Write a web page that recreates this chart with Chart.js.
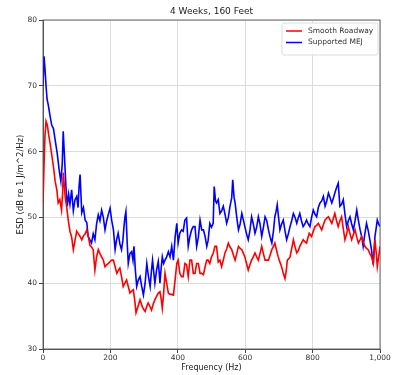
<!DOCTYPE html>
<html>
<head>
<meta charset="utf-8">
<script src="https://cdn.jsdelivr.net/npm/chart.js@4.4.1/dist/chart.umd.min.js"></script>
<style>
body{margin:0;background:#fff}
canvas{display:block}
</style>
</head>
<body>
<canvas id="c" width="398" height="375"></canvas>
<script>
// spectra, frequency in Hz and level in dB
const redHz = [0,3,6,9,13,17,21,26,31,36,41,45,50,55,58,60,63,66,70,75,80,85,90,95,100,105,110,115,120,125,130,135,139,144,149,154,159,164,169,174,179,184,189,194,199,204,209,214,219,224,228,233,238,243,248,253,258,263,268,272,276,282,288,294,299,303,308,312,317,322,327,332,337,342,347,351,354,358,362,367,372,377,382,387,392,397,401,406,411,416,421,426,431,436,441,446,451,456,461,466,471,476,481,486,490,495,500,505,510,515,520,525,530,535,540,545,550,555,560,565,570,575,580,585,590,595,599,604,609,614,619,624,629,634,639,644,649,654,659,664,669,674,679,684,688,693,698,703,708,713,718,722,725,729,733,738,743,748,753,758,762,767,772,777,782,786,790,797,802,807,812,817,822,827,832,837,842,847,852,857,862,866,871,876,881,886,891,896,901,906,911,916,921,926,931,936,941,945,950,955,960,965,970,975,980,985,989,992,996,1000];
const redDb = [52,58,62.5,64.6,64,62.5,61.3,59.5,57.7,55.5,54.2,52.2,52.7,51.1,53.5,56.8,55,53,51.7,49.6,47.9,47,45.1,46.5,47.9,47.5,47.1,46.6,47.2,47.5,48.1,47,45.8,45.5,45.1,42,44,45.1,44.5,44,43.5,42.5,42.8,43,43.3,43.5,43.5,42.5,41.5,42,42.3,41,39.5,40,40.5,39.5,38.5,38.8,39,37.5,35.5,36.5,37.5,36.5,36,35.7,36.5,37,36.5,35.9,36.8,37.5,38,38.5,38.7,37.5,36.2,38.5,41.5,40,38.5,38.3,38.3,38.2,40.5,43,43.5,41.5,41,41,43,42.8,41,43.5,43.5,41.5,41.5,43,43,41.5,41.5,41.3,42.5,43.5,43.5,43,44,44.5,45.6,45.6,43.2,43.5,42.5,43.5,44.6,45.2,46.1,45.5,45.1,44.3,43.5,44.5,45.6,45.3,45.1,44.5,44,43,42,42.8,43.5,44,44.6,44,43.5,44.5,45.6,44.5,43.5,43.5,43.5,44.3,45.1,45.6,46.1,45,44,43.2,42.5,41.5,40.7,42,43.5,43.7,44,45.3,46.6,45.5,44.6,45,45.6,46.1,46.6,46.3,46.1,46.9,47.6,47.1,47.9,48.6,48.8,49.1,48.6,48.1,48.9,49.6,49.9,50.1,49.6,49.1,49.9,50.6,49.5,48.6,49.5,50.1,48.3,46.6,47.5,48.6,47.5,46.6,47.4,48.1,47,46.1,46.6,47.1,46.3,45.6,45.3,45.1,44.5,44,43,46.6,44.5,42.5,44,45.6];

const blueHz = [0,3,6,9,12,16,21,26,31,36,42,48,53,57,60,64,68,72,76,80,85,90,95,100,104,107,110,115,120,125,130,134,139,144,149,154,159,164,169,174,179,184,189,194,199,204,209,214,218,223,228,233,237,240,243,246,250,253,258,263,267,270,274,278,283,288,293,298,303,308,313,318,322,325,329,332,337,342,345,347,351,354,358,362,367,372,377,382,387,392,397,401,406,411,416,421,426,431,436,441,446,451,456,461,466,471,476,481,486,490,495,500,505,508,512,515,520,525,530,535,540,545,550,555,560,563,567,570,575,580,585,590,595,599,604,609,614,619,624,629,634,639,644,649,654,659,664,669,674,679,684,688,692,695,699,703,708,713,718,723,728,733,738,743,748,753,758,762,767,772,777,782,787,792,797,802,807,812,817,822,827,832,837,842,847,852,857,862,866,871,876,881,886,891,896,901,906,911,916,921,926,931,936,941,946,950,955,960,965,970,975,980,985,989,992,996,1000];
const blueDb = [70,74.5,72.5,70,68,67,65.4,64,63.5,61.8,59.8,57.2,55.5,58,63.1,59,54.7,51.7,53.5,52,54.2,51,52.7,53.2,51.5,54.7,56.5,50.7,51.5,49.6,49.2,47.1,46.6,46.1,47.5,46.6,49,50.4,49.5,51.1,50,48.1,49.5,50.5,51.4,49.5,48.1,45.1,46.5,47.6,46,45.1,46.5,48.4,50,50.9,46,43,44.5,44.8,43.5,45.6,42,39.5,40.5,41,39.5,38.2,40,43,41,39.5,42,43.5,41.5,40,42,43.3,41.5,40,42.5,44,43,43.5,44,44.8,44,45.6,43.5,47,49.1,46.1,47.6,48.1,47.9,49.6,49.9,45.6,47.1,48.1,48.6,48.6,45.6,47,49.6,48.1,48.1,47.1,45.6,46.5,49.1,48.5,49.1,54.7,52.5,52.2,52.7,50.6,51,51.7,50.5,49.1,50,51.7,53,55.7,53,52.2,50,48.1,49,50.6,49.5,48.6,47.5,46.6,48,50.1,49,47.6,48.5,50.1,49,47.1,48.5,50.1,49.5,48.1,47,46.1,48,50.1,51,51.9,50,48.1,49,49.6,48,46.6,47.5,48.6,49.5,50.6,50,49.1,50,50.6,49.5,48.6,49,49.6,49,48.6,50,51.1,50.5,50.1,51.5,52.2,52.5,53.2,51.7,52.5,53.7,53,52.2,53,53.7,54.5,55.2,51.7,52,52.7,50.5,48.6,49.5,50.1,49,48.1,49.5,51.1,49.5,48.1,47,45.6,47.5,49.1,48,46.6,45,42.8,47.1,48.5,49.6,49,48.6];

const xTicks = [0,200,400,600,800,1000];
const yTicks = [30,40,50,60,70,80];
const chartTitle = '4 Weeks, 160 Feet';

const pts = (xs, ys) => xs.map((x,i)=>({x, y:ys[i]}));

// title over the plot, box round the plot, legend in the upper right corner
const frame = {
  id:'frame',
  afterDraw(chart){
    const {ctx, chartArea:a} = chart;
    ctx.save();
    ctx.strokeStyle='#444';
    ctx.lineWidth=0.8;
    ctx.strokeRect(a.left, a.top, a.right-a.left, a.bottom-a.top);

    ctx.fillStyle='#222';
    ctx.font='9px "DejaVu Sans"';
    ctx.textAlign='center';
    ctx.textBaseline='middle';
    ctx.fillText(chartTitle, (a.left+a.right)/2, 12);

    const w=96, h=32, x=a.right-w-2, y=a.top+3;
    ctx.fillStyle='rgba(255,255,255,0.85)';
    ctx.strokeStyle='#ddd';
    ctx.lineWidth=1;
    ctx.beginPath();
    ctx.roundRect(x, y, w, h, 2);
    ctx.fill(); ctx.stroke();

    ctx.font='7.5px "DejaVu Sans"';
    ctx.textAlign='left';
    chart.data.datasets.forEach((ds,i)=>{
      const ly = y+8+i*11.5;
      ctx.strokeStyle=ds.borderColor;
      ctx.lineWidth=1.5;
      ctx.beginPath(); ctx.moveTo(x+4, ly); ctx.lineTo(x+20, ly); ctx.stroke();
      ctx.fillStyle='#333';
      ctx.fillText(ds.label, x+26, ly);
    });
    ctx.restore();
  }
};

new Chart(document.getElementById('c'), {
  type:'line',
  data:{datasets:[
    {label:'Smooth Roadway', data:pts(redHz, redDb), borderColor:'#ff0000', borderWidth:1.6, pointRadius:0, tension:0},
    {label:'Supported MEJ', data:pts(blueHz, blueDb), borderColor:'#0000ff', borderWidth:1.6, pointRadius:0, tension:0}
  ]},
  options:{
    responsive:false,
    animation:false,
    devicePixelRatio:1,
    layout:{padding:{left:0, right:18, top:20, bottom:0}},
    plugins:{
      legend:{display:false},
      tooltip:{enabled:false},
      title:{display:false}
    },
    scales:{
      x:{type:'linear', min:0, max:1000,
        afterBuildTicks:s=>{s.ticks=xTicks.map(v=>({value:v}));},
        afterFit:s=>{s.height=26;},
        grid:{color:'#dcdcdc', tickColor:'#444', tickLength:4},
        border:{color:'#444', width:0.8},
        ticks:{color:'#333', padding:1, maxRotation:0, font:{family:'DejaVu Sans', size:7.5}},
        title:{display:true, text:'Frequency (Hz)', color:'#222', padding:{top:0, bottom:2},
          font:{family:'DejaVu Sans', size:8}}
      },
      y:{min:30, max:80,
        afterBuildTicks:s=>{s.ticks=yTicks.map(v=>({value:v}));},
        afterFit:s=>{s.width=43;},
        grid:{color:'#dcdcdc', tickColor:'#444', tickLength:4},
        border:{color:'#444', width:0.8},
        ticks:{color:'#333', padding:2, font:{family:'DejaVu Sans', size:7.5}},
        title:{display:true, text:'ESD (dB re 1 J/m^2/Hz)', color:'#222', padding:{top:16, bottom:0},
          font:{family:'DejaVu Sans', size:8.5}}
      }
    }
  },
  plugins:[frame]
});
</script>
</body>
</html>
